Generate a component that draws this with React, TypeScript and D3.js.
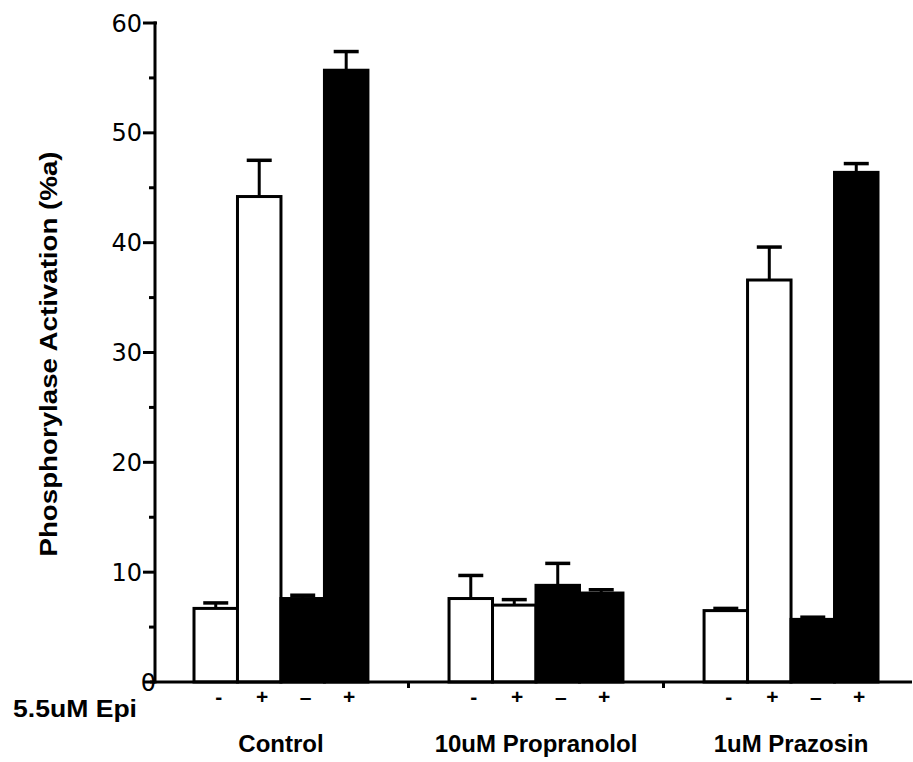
import React from "react";
import * as d3 from "d3";

const groups = ["Control", "10uM Propranolol", "1uM Prazosin"];
const epiSigns = ["-", "+", "–", "+"];
const barFills = ["white", "white", "black", "black"];
const values = [
  [6.7, 44.2, 7.6, 55.7],
  [7.6, 7.0, 8.8, 8.1],
  [6.5, 36.6, 5.7, 46.4],
];
const errors = [
  [0.5, 3.3, 0.3, 1.7],
  [2.1, 0.5, 2.0, 0.3],
  [0.2, 3.0, 0.2, 0.8],
];
const yTicks = [0, 10, 20, 30, 40, 50, 60];
const yMinorTicks = [5, 15, 25, 35, 45, 55];
const yLabel = "Phosphorylase Activation (%a)";
const rowLabel = "5.5uM Epi";

export default function App() {
  const W = 913;
  const H = 762;
  const axisX = 155;
  const y = d3.scaleLinear().domain([0, 60]).range([682, 23]);
  const xg = d3
    .scaleBand<string>()
    .domain(groups)
    .range([194, 878])
    .paddingInner(0.318)
    .paddingOuter(0);
  const xb = d3
    .scaleBand<number>()
    .domain([0, 1, 2, 3])
    .range([0, xg.bandwidth()])
    .padding(0);

  const sepTicks = groups.slice(1).map((g, i) => {
    const prevEnd = (xg(groups[i]) as number) + xg.bandwidth();
    const nextStart = xg(g) as number;
    return (prevEnd + nextStart) / 2;
  });

  const boldFont = "'Liberation Sans', Arial, sans-serif";

  return (
    <svg
      width={W}
      height={H}
      style={{ position: "absolute", left: 0, top: 0, background: "white" }}
    >
      <rect x={0} y={0} width={W} height={H} fill="white" />
      {/* Bars */}
      {groups.map((g, gi) => (
        <g key={g} transform={`translate(${xg(g)},0)`}>
          {values[gi].map((v, bi) => {
            const bx = xb(bi) as number;
            const bw = xb.bandwidth();
            const top = y(v);
            const errTop = y(v + errors[gi][bi]);
            const cx = bx + bw / 2;
            return (
              <g key={bi}>
                <line
                  x1={cx}
                  x2={cx}
                  y1={top}
                  y2={errTop}
                  stroke="black"
                  strokeWidth={3}
                />
                <line
                  x1={cx - 12.5}
                  x2={cx + 12.5}
                  y1={errTop}
                  y2={errTop}
                  stroke="black"
                  strokeWidth={3.5}
                />
                <rect
                  x={bx}
                  y={top}
                  width={bw}
                  height={y(0) - top}
                  fill={barFills[bi]}
                  stroke="black"
                  strokeWidth={3}
                />
              </g>
            );
          })}
          {epiSigns.map((s, bi) => (
            <text
              key={"s" + bi}
              x={(xb(bi) as number) + xb.bandwidth() / 2 + 3}
              y={704}
              textAnchor="middle"
              fontFamily={boldFont}
              fontWeight="bold"
              fontSize={21}
            >
              {s}
            </text>
          ))}
          <text
            x={xg.bandwidth() / 2}
            y={752}
            textAnchor="middle"
            fontFamily={boldFont}
            fontWeight="bold"
            fontSize={24}
          >
            {g}
          </text>
        </g>
      ))}

      {/* Y tick labels */}
      {yTicks.map((t) => (
        <text
          key={"yl" + t}
          x={t === 0 ? 156 : 142}
          y={y(t) + 8.5}
          textAnchor="end"
          fontFamily="'DejaVu Sans', sans-serif"
          fontSize={24}
        >
          {t}
        </text>
      ))}

      {/* Axes */}
      <line x1={150} x2={912} y1={y(0)} y2={y(0)} stroke="black" strokeWidth={3} />
      <line
        x1={axisX}
        x2={axisX}
        y1={y(60) - 1.5}
        y2={y(0) + 1.5}
        stroke="black"
        strokeWidth={3}
      />
      {yTicks.map((t) => (
        <line
          key={"yt" + t}
          x1={axisX - 12}
          x2={t === 60 ? axisX + 2 : axisX}
          y1={y(t)}
          y2={y(t)}
          stroke="black"
          strokeWidth={3}
        />
      ))}
      {yMinorTicks.map((t) => (
        <line
          key={"ym" + t}
          x1={axisX - 6}
          x2={axisX}
          y1={y(t)}
          y2={y(t)}
          stroke="black"
          strokeWidth={3}
        />
      ))}
      {sepTicks.map((sx, i) => (
        <line
          key={"sep" + i}
          x1={sx}
          x2={sx}
          y1={y(0)}
          y2={y(0) + 6}
          stroke="black"
          strokeWidth={3}
        />
      ))}

      {/* Labels */}
      <text
        x={13}
        y={717}
        fontFamily={boldFont}
        fontWeight="bold"
        fontSize={23}
        textLength={124}
        lengthAdjust="spacingAndGlyphs"
      >
        {rowLabel}
      </text>
      <text
        transform={`translate(57,354) rotate(-90)`}
        textAnchor="middle"
        fontFamily={boldFont}
        fontWeight="bold"
        fontSize={24}
        textLength={405}
        lengthAdjust="spacingAndGlyphs"
      >
        {yLabel}
      </text>
    </svg>
  );
}
